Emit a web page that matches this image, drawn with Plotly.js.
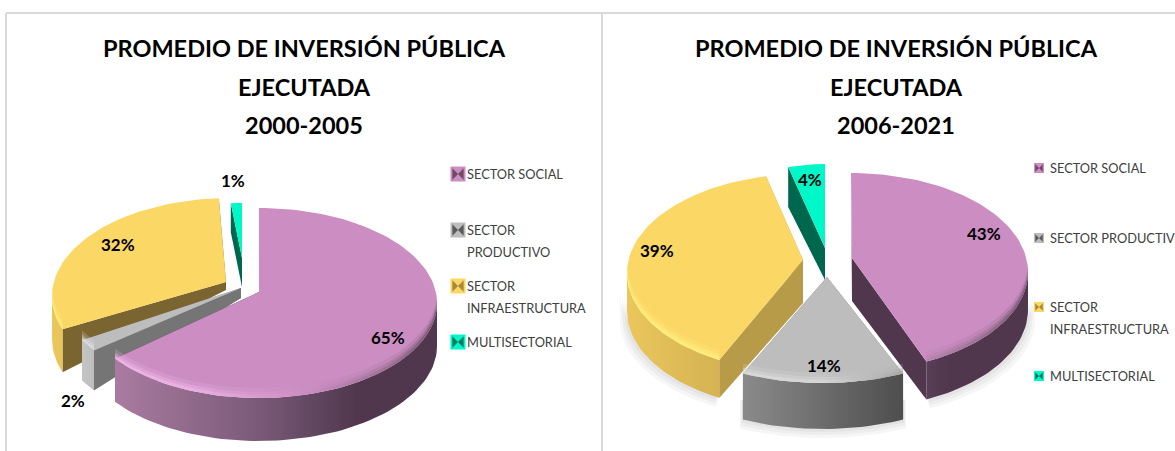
<!DOCTYPE html>
<html><head><meta charset="utf-8">
<script src="https://cdn.plot.ly/plotly-3.0.1.min.js"></script>
<style>html,body{margin:0;padding:0;background:#fff;overflow:hidden}#c{width:1175px;height:451px}</style>
</head><body><div id="c"></div>
<script>
// ---- data ----
const categories = ['SECTOR SOCIAL','SECTOR PRODUCTIVO','SECTOR INFRAESTRUCTURA','MULTISECTORIAL'];
const values2000 = [65, 2, 32, 1];
const values2006 = [43, 14, 39, 4];
const title2000 = 'PROMEDIO DE INVERSIÓN PÚBLICA<br>EJECUTADA<br>2000-2005';
const title2006 = 'PROMEDIO DE INVERSIÓN PÚBLICA<br>EJECUTADA<br>2006-2021';

// ---- styling: [top colour, cut-face colour] per category, per chart ----
const topColors = ['#CC8DC2','#BDBDBD','#FBD766','#00F7C8'];
const cutLeft = ['#50374D','#757575','#7A6430','#00674F'];
const cutRight = ['#50374D','#757575','#B89B48','#00674F'];
const wallRamps = [
  [[-1,'#B785AD'],[-.8,'#A97BA0'],[0,'#7A5A78'],[.55,'#50374D'],[1,'#50374D']],
  [[-1,'#D6D6D6'],[-.45,'#8C8C8C'],[.45,'#4C4C4C'],[1,'#4C4C4C']],
  [[-1,'#EBC65C'],[-.2,'#C9A84E'],[1,'#B0923F']],
  [[-1,'#00674F'],[1,'#00674F']]
];
const bevelRamps = [
  [[-1,'#F2B9EA'],[-.4,'#F0B8E8'],[.3,'#C98CC0'],[.8,'#8A6684'],[1,'#6D4D69']],
  [[-1,'#E0E0E0'],[0,'#D8D8D8'],[.4,'#A8A8A8'],[1,'#808080']],
  [[-1,'#FFF07E'],[-.3,'#FFEF80'],[.2,'#F5D060'],[1,'#D8B850']],
  [[-1,'#00F7C8'],[1,'#00F7C8']]
];
// geometry per slice: ellipse centre, radii, apex, wall depth, depth at apex,
// and the on-screen angle shift of the slice edges caused by the perspective
const geomLeft = [
  {cx:259,cy:303,rx:178,ry:95,ax:259,ay:292,d:43,ad:38,da0:0,da1:0},
  {cx:238,cy:293,rx:178,ry:98,ax:241,ay:288,d:40,ad:10,da0:0,da1:0},
  {cx:230,cy:296,rx:178,ry:98,ax:226,ay:282,d:43,ad:8,da0:9,da1:0},
  {cx:242,cy:301,rx:178,ry:98,ax:242,ay:258,d:29,ad:29,da0:0,da1:0}
];
const geomRight = [
  {cx:851,cy:272,rx:177,ry:99,ax:852,ay:258,d:38,ad:43,da0:0,da1:0},
  {cx:823,cy:284,rx:188,ry:99,ax:827,ay:277,d:46,ad:46,da0:0,da1:0},
  {cx:804,cy:273,rx:177,ry:99,ax:803,ay:260,d:38,ad:43,da0:3.4,da1:2},
  {cx:825,cy:263,rx:148,ry:99,ax:825,ay:248,d:40,ad:32,da0:0,da1:0}
];
const orderLeft = [3,2,1,0];
const orderRight = [3,2,0,1];
const labelPosLeft = [[388,337],[73,400],[118,244],[233,180]];
const labelPosRight = [[984,233],[824,365],[657,250],[810,179]];
const legendLeft = {x:458,tx:465,size:15,ys:[174,230,286,342],
  lines:[['SECTOR SOCIAL'],['SECTOR','PRODUCTIVO'],['SECTOR','INFRAESTRUCTURA'],['MULTISECTORIAL']],gap:21.5};
const legendRight = {x:1039,tx:1048,size:10,ys:[168,238,307,376],
  lines:[['SECTOR SOCIAL'],['SECTOR PRODUCTIVO'],['SECTOR','INFRAESTRUCTURA'],['MULTISECTORIAL']],gap:22};
const legendDark = ['#6E4A69','#5A5A5A','#A88A35','#007A60'];
const fontFamily = 'Lato, "Open Sans", sans-serif';
const bevelLayers = [[-10,0.22],[-6,0.4],[-3,0.7]];

// ---- helpers ----
const rad = d => d*Math.PI/180;
const rim = (g,a,dy=0) => [g.cx+g.rx*Math.sin(rad(a)), g.cy-g.ry*Math.cos(rad(a))+dy];
function arc(g,a0,a1,dy=0){
  const n=Math.max(2,Math.ceil(Math.abs(a1-a0)/2)), out=[];
  for(let i=0;i<=n;i++) out.push(rim(g,a0+(a1-a0)*i/n,dy));
  return out;
}
function hex2(c){return [1,3,5].map(i=>parseInt(c.substr(i,2),16));}
function rampAt(r,t){
  if(t<=r[0][0]) return r[0][1];
  for(let i=1;i<r.length;i++) if(t<=r[i][0]){
    const f=(t-r[i-1][0])/(r[i][0]-r[i-1][0]),a=hex2(r[i-1][1]),b=hex2(r[i][1]);
    return 'rgb('+a.map((v,k)=>Math.round(v+(b[k]-v)*f)).join(',')+')';
  }
  return r[r.length-1][1];
}
function poly(pts,name,fill,opacity){
  const t={type:'scatter',mode:'lines',x:pts.map(p=>p[0]).concat(pts[0][0]),y:pts.map(p=>p[1]).concat(pts[0][1]),
    fill:'toself',line:{width:0,color:'rgba(0,0,0,0)'},hoverinfo:'skip',showlegend:false,name};
  if(typeof fill==='string') t.fillcolor=fill; else t.fillgradient=fill;
  if(opacity) t.opacity=opacity;
  return t;
}
function grad(pts,g,ramp){
  const xs=pts.map(p=>p[0]),lo=Math.min(...xs),hi=Math.max(...xs),stops=[];
  for(let i=0;i<=8;i++){const x=lo+(hi-lo)*i/8;stops.push([i/8,rampAt(ramp,(x-g.cx)/g.rx)]);}
  return {type:'horizontal',colorscale:stops};
}
function slices(values,geom,cuts,order,shadow){
  let c=0;const sp=values.map((v,i)=>{const s=[c+geom[i].da0,c+v*3.6+geom[i].da1];c+=v*3.6;return s;});
  const out=[];
  if(shadow) order.forEach(i=>{
    const g=geom[i],a0=Math.max(sp[i][0],90),a1=Math.min(sp[i][1],270);
    if(a1<=a0) return;
    [9,6,3].forEach(k=>{
      const gg={...g,rx:g.rx+k*.8};
      const pts=arc(gg,a0,a1,g.d+k).concat(arc(gg,a1,a0,g.d-20));
      out.push(poly(pts,categories[i]+' sombra','rgba(0,0,0,0.035)'));
    });
  });
  order.forEach(i=>{
    const g=geom[i],[a0,a1]=sp[i],name=categories[i];
    [a0,a1].forEach(a=>{
      const r=rim(g,a);
      out.push(poly([[g.ax,g.ay],r,[r[0],r[1]+g.d],[g.ax,g.ay+g.ad]],name,cuts[i]));
    });
    const w0=Math.max(a0,90),w1=Math.min(a1,270);
    if(w1>w0){
      const pts=arc(g,w0,w1).concat(arc(g,w1,w0,g.d));
      out.push(poly(pts,name,grad(pts,g,wallRamps[i])));
    }
    out.push(poly([[g.ax,g.ay]].concat(arc(g,a0,a1)),name,topColors[i]));
    if(w1>w0) bevelLayers.forEach(([dy,op])=>{
      const pts=arc(g,w0,w1).concat(arc(g,w1,w0,dy));
      out.push(poly(pts,name,grad(pts,g,bevelRamps[i]),op));
    });
  });
  return out;
}
function legendTraces(leg){
  const out=[];
  categories.forEach((c,i)=>{
    out.push({type:'scatter',mode:'markers',x:[leg.x],y:[leg.ys[i]],name:c,showlegend:false,hoverinfo:'skip',
      marker:{symbol:'square',size:leg.size,color:topColors[i]}});
    out.push({type:'scatter',mode:'markers',x:[leg.x],y:[leg.ys[i]],name:c,showlegend:false,hoverinfo:'skip',
      marker:{symbol:'bowtie',size:leg.size*.75,color:legendDark[i]}});
  });
  return out;
}
const ann=[];
function text(x,y,t,size,color,bold,anchor){
  ann.push({xref:'x',yref:'y',x,y,text:bold?'<b>'+t+'</b>':t,showarrow:false,xanchor:anchor||'center',yanchor:'middle',
    align:'center',font:{family:fontFamily,size,color}});
}
function titleLines(cx,t){t.split('<br>').forEach((l,i)=>text(cx,[48,87,125][i],l,23.5,'#000',true));}
function legendText(leg){
  leg.lines.forEach((ls,i)=>ls.forEach((l,j)=>text(leg.tx,leg.ys[i]+j*leg.gap,l,12.8,'#404040',false,'left')));
}
titleLines(304,title2000); titleLines(896,title2006);
legendText(legendLeft); legendText(legendRight);
values2000.forEach((v,i)=>text(labelPosLeft[i][0],labelPosLeft[i][1],v+'%',17,'#000',true));
values2006.forEach((v,i)=>text(labelPosRight[i][0],labelPosRight[i][1],v+'%',17,'#000',true));

const traces=[].concat(
  slices(values2000,geomLeft,cutLeft,orderLeft,false),
  slices(values2006,geomRight,cutRight,orderRight,true),
  legendTraces(legendLeft),legendTraces(legendRight));

const border='#D9D9D9';
const line=(x0,y0,x1,y1)=>({type:'line',xref:'x',yref:'y',x0,y0,x1,y1,line:{color:border,width:2}});
Plotly.newPlot('c',traces,{
  width:1175,height:451,margin:{l:0,r:0,t:0,b:0},paper_bgcolor:'#fff',plot_bgcolor:'#fff',showlegend:false,
  xaxis:{range:[0,1175],visible:false,fixedrange:true},
  yaxis:{range:[451,0],visible:false,fixedrange:true},
  shapes:[line(6,13,1175,13),line(6,13,6,451),line(602,13,602,451)],
  annotations:ann
},{displayModeBar:false,staticPlot:true});
</script></body></html>
